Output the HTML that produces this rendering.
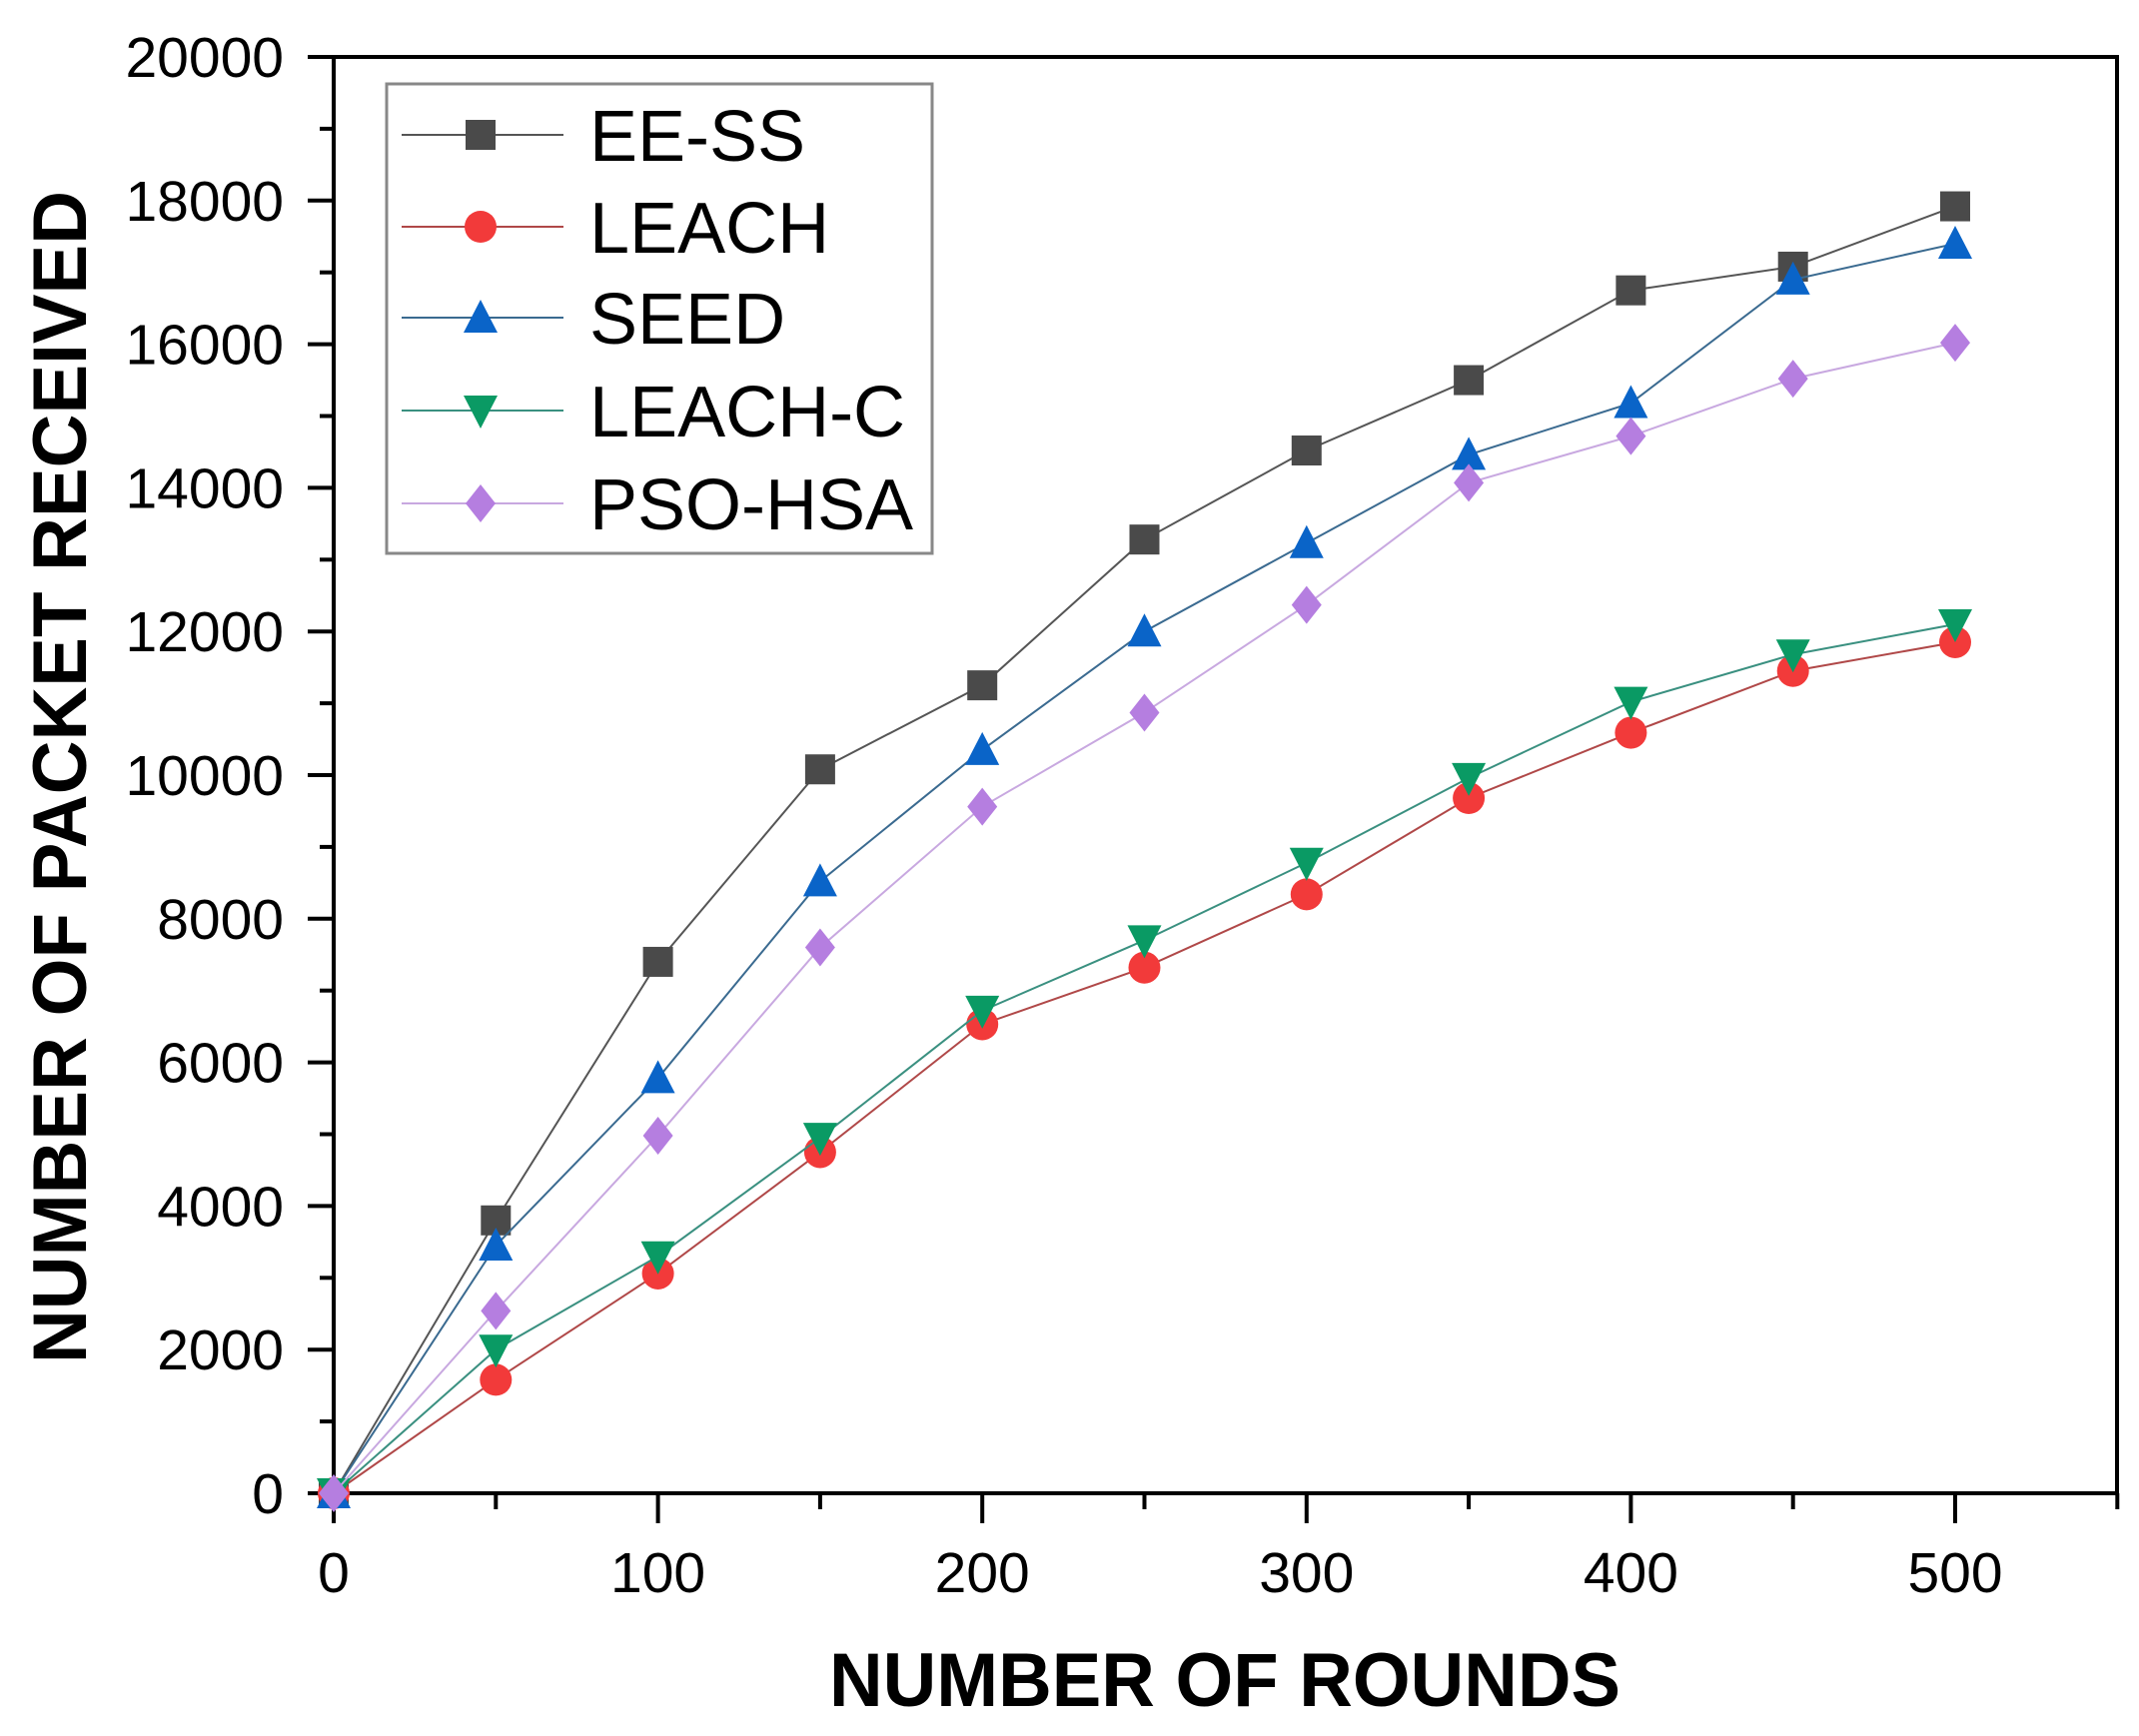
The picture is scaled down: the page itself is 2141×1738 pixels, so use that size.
<!DOCTYPE html>
<html><head><meta charset="utf-8"><style>
html,body{margin:0;padding:0;background:#fff;}
svg{display:block;font-family:"Liberation Sans",Arial,sans-serif;}
</style></head><body>
<svg id="chart" width="2141" height="1738" viewBox="0 0 2141 1738">
<g id="plot"></g>
<text x="1226" y="1708" font-size="76" font-weight="bold" text-anchor="middle" textLength="792" lengthAdjust="spacingAndGlyphs">NUMBER OF ROUNDS</text>
<text transform="translate(86,778) rotate(-90)" font-size="76" font-weight="bold" text-anchor="middle" textLength="1174" lengthAdjust="spacingAndGlyphs">NUMBER OF PACKET RECEIVED</text>
</svg>
<script>
const rounds=[0,50,100,150,200,250,300,350,400,450,500];
const eess=[0,3800,7400,10080,11250,13280,14520,15500,16750,17080,17920];
const leach=[0,1580,3060,4750,6530,7320,8340,9680,10590,11450,11850];
const seed=[0,3450,5780,8520,10350,12000,13230,14460,15180,16900,17400];
const leachc=[0,2000,3300,4950,6720,7700,8780,9960,11020,11680,12100];
const psohsa=[0,2540,4980,7600,9560,10870,12370,14070,14720,15520,16020];
const seriesNames=["EE-SS","LEACH","SEED","LEACH-C","PSO-HSA"];
const xTicks=[0,100,200,300,400,500];
const yTicks=[0,2000,4000,6000,8000,10000,12000,14000,16000,18000,20000];

const NS="http://www.w3.org/2000/svg";
const L=334,R=2119,T=57,B=1495;
const X=v=>L+v/500*(1957-L);
const Y=v=>B-v/20000*(B-T);
const g=document.getElementById('plot');
function mk(tag,attrs,parent){const e=document.createElementNS(NS,tag);for(const k in attrs)e.setAttribute(k,attrs[k]);(parent||g).appendChild(e);return e;}

// frame
const frame=mk('rect',{x:L,y:T,width:R-L,height:B-T,fill:'none',stroke:'#000','stroke-width':4});



// y ticks
for(let i=0;i<yTicks.length;i++){
  const v=yTicks[i];
  const t=mk('line',{x1:L-26,x2:L,y1:Y(v),y2:Y(v),stroke:'#000','stroke-width':4});
  
  
  const lb=mk('text',{x:284,y:Y(v)+20,'font-size':57,'text-anchor':'end'});
  lb.textContent=v;
  
  
  if(i<yTicks.length-1){
    const m=(v+yTicks[i+1])/2;
    const mt=mk('line',{x1:L-14,x2:L,y1:Y(m),y2:Y(m),stroke:'#000','stroke-width':4});
    
    
  }
}
// x ticks
for(let v=0;v<=550;v+=50){
  const major=v%100===0;
  const t=mk('line',{x1:X(v),x2:X(v),y1:B,y2:B+(major?30:16),stroke:'#000','stroke-width':4});
  
  
}
for(const v of xTicks){
  const lb=mk('text',{x:X(v),y:1594,'font-size':57,'text-anchor':'middle'});
  lb.textContent=v;
  
  
}

const styles=[
 {data:eess,line:'#555',fill:'#4a4a4a',shape:'square'},
 {data:leach,line:'#b04848',fill:'#f23a3a',shape:'circle'},
 {data:seed,line:'#3a6a90',fill:'#0a64c8',shape:'up'},
 {data:leachc,line:'#3a9080',fill:'#0a9a64',shape:'down'},
 {data:psohsa,line:'#c8a8e0',fill:'#b57ee0',shape:'diamond'}
];
function marker(shape,cx,cy,fill,parent){
  const s=15;let e;
  if(shape==='square')e=mk('rect',{x:cx-s,y:cy-s,width:2*s,height:2*s,fill},parent);
  else if(shape==='circle')e=mk('circle',{cx,cy,r:s+1,fill},parent);
  else if(shape==='up')e=mk('polygon',{points:`${cx},${cy-s-3} ${cx-s-2},${cy+s} ${cx+s+2},${cy+s}`,fill},parent);
  else if(shape==='down')e=mk('polygon',{points:`${cx},${cy+s+3} ${cx-s-2},${cy-s} ${cx+s+2},${cy-s}`,fill},parent);
  else e=mk('polygon',{points:`${cx},${cy-s-4} ${cx+s},${cy} ${cx},${cy+s+4} ${cx-s},${cy}`,fill},parent);
  return e;
}
styles.forEach((st,si)=>{
  const sg=mk('g',{});
  
  
  const pts=st.data.map((v,i)=>X(rounds[i])+','+Y(v)).join(' ');
  const pl=mk('polyline',{points:pts,fill:'none',stroke:st.line,'stroke-width':2},sg);
  
  
  st.data.forEach((v,i)=>{
    const m=marker(st.shape,X(rounds[i]),Y(v),st.fill,sg);
    
    
  });
});

// legend
const lg=mk('g',{});


const lbx=mk('rect',{x:387,y:84,width:546,height:470,fill:'#fff',stroke:'#888','stroke-width':3},lg);


const rowsY=[135,227,318,411,504];
styles.forEach((st,si)=>{
  const eg=mk('g',{},lg);
  
  
  const y=rowsY[si];
  mk('line',{x1:402,x2:564,y1:y,y2:y,stroke:st.line,'stroke-width':2},eg);
  marker(st.shape,481,y,st.fill,eg);
  const t=mk('text',{x:590,y:y+26,'font-size':72},eg);
  t.textContent=seriesNames[si];
});
</script>
</body></html>
